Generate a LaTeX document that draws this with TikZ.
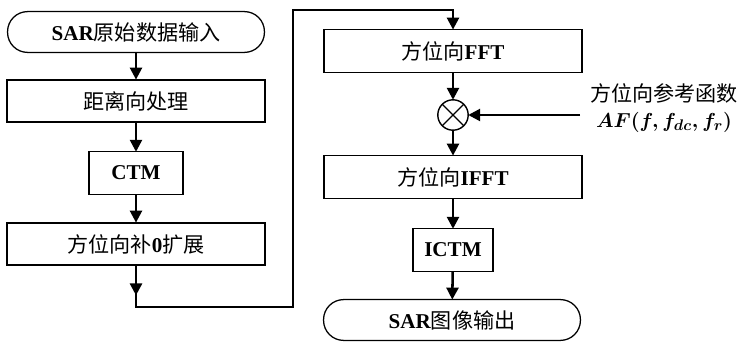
\documentclass[tikz,border=0pt]{standalone}
\usepackage{amsmath}
\usepackage{fontspec}
\setmainfont{Liberation Serif}
\newfontfamily\cjk{Noto Sans CJK SC}
\usepackage{tikz}
\usetikzlibrary{arrows.meta}
\newcommand{\zh}[1]{{\cjk\mdseries #1}}

\begin{document}
\begin{tikzpicture}[x=0.025cm,y=-0.025cm,font=\fontsize{15}{18}\selectfont\bfseries,
    every node/.style={outer sep=0pt,inner sep=0pt},
    procbox/.style={draw,line width=1.4pt,minimum width=6.45cm,minimum height=1.07cm},
    smallbox/.style={draw,line width=0.9pt,minimum height=1.06cm},
    termbox/.style={draw,line width=0.9pt,rounded corners=0.5cm,minimum width=6.42cm,minimum height=1.02cm},
    arr/.style={line width=1.8pt,-{Triangle[length=8.5pt,width=8.5pt]}}]
    \useasboundingbox (0,0) rectangle (739,347);
    % ---- left column: range side
    \node[termbox] (start) at (136,32) {SAR\zh{原始数据输入}};
    \node[procbox] (range) at (136,101) {\zh{距离向处理}};
    \node[smallbox,minimum width=2.35cm] (ctm) at (136,173) {CTM};
    \node[procbox] (pad) at (136,244) {\zh{方位向补}0\zh{扩展}};
    \coordinate (turnA) at (293,307);
    \coordinate (turnB) at (293,10);
    % ---- right column: azimuth side
    \node[procbox,line width=0.9pt] (fft) at (453,51) {\zh{方位向}FFT};
    \node[draw,circle,line width=1pt,minimum size=0.76cm] (mul) at (453,115) {};
    \draw[line width=1pt] (mul.45) -- (mul.225) (mul.135) -- (mul.315);
    \coordinate (refin) at (580,115);
    \node[align=center] (ref) at (664,108) {\zh{方位向参考函数}\\{\boldmath$AF(f,f_{dc},f_r)$}};
    \node[procbox,line width=0.9pt] (ifft) at (453,177) {\zh{方位向}IFFT};
    \node[smallbox,minimum width=2.0cm] (ictm) at (453,250) {ICTM};
    \node[termbox] (stop) at (452,320) {SAR\zh{图像输出}};
    % connectors
    \draw[arr] (start) -- (range);
    \draw[arr] (range) -- (ctm);
    \draw[arr] (ctm) -- (pad);
    \draw[arr] (pad.south) -- ++(0,30);
    \draw[arr] (pad.south) |- (turnA) -- (turnB) -| (fft.north);
    \draw[arr] (fft) -- (mul);
    \draw[arr] (refin) -- (mul);
    \draw[arr] (mul) -- (ifft);
    \draw[arr] (ifft) -- (ictm);
    \draw[arr] (ictm) -- (stop);
\end{tikzpicture}
\end{document}
